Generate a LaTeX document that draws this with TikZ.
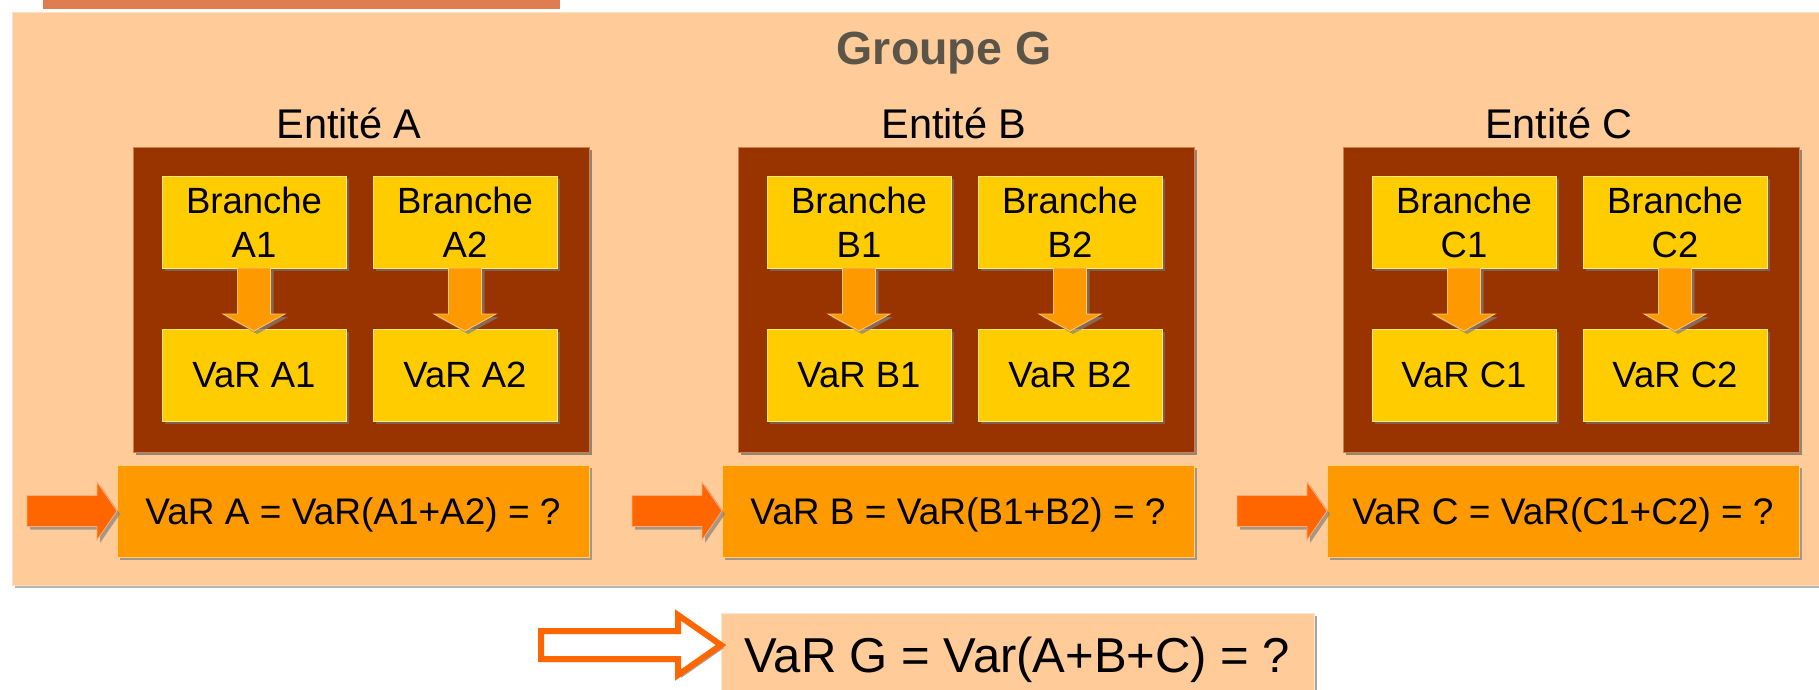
\documentclass[tikz,border=0pt]{standalone}
\usepackage{fontspec}
\setmainfont{Liberation Sans}
\usetikzlibrary{shadows,calc}

\definecolor{groupfill}{HTML}{FFCC99}
\definecolor{tabfill}{HTML}{E07D50}
\definecolor{entityfill}{HTML}{993300}
\definecolor{branchfill}{HTML}{FFCC00}
\definecolor{flowfill}{HTML}{FF9900}
\definecolor{pointer}{HTML}{FF6600}
\definecolor{titlegray}{HTML}{5A5548}

\begin{document}
\begin{tikzpicture}[x=1pt,y=-1pt,
  softshadow/.style={drop shadow={shadow xshift=3pt,shadow yshift=-3pt,fill=#1,opacity=0.7}},
  softshadow/.default=black!50,
  groupbox/.style={fill=groupfill, draw=groupfill!60!white, line width=1pt,
    softshadow=black!40, inner sep=0pt, outer sep=0pt},
  entitybox/.style={fill=entityfill, draw=entityfill!50!groupfill, line width=1pt,
    softshadow=black!60, minimum width=456pt, minimum height=305pt,
    inner sep=0pt, outer sep=0pt},
  branchbox/.style={fill=branchfill, draw=branchfill!50!white, line width=1pt,
    softshadow=black!55, minimum width=184pt, minimum height=92pt,
    inner sep=0pt, outer sep=0pt, align=center, font=\fontsize{36.5}{44}\selectfont},
  eqbox/.style={fill=flowfill, draw=flowfill!50!white, line width=1pt,
    softshadow, minimum width=472pt, minimum height=92pt, inner sep=0pt,
    outer sep=0pt, font=\fontsize{37}{44}\selectfont, text height=26.5pt, text depth=0pt},
  totalbox/.style={fill=groupfill, draw=groupfill!50!white, line width=1pt,
    softshadow, minimum width=593pt, minimum height=83pt, inner sep=0pt,
    outer sep=0pt, font=\fontsize{49}{56}\selectfont, text height=35pt, text depth=0pt},
  downarrow/.style={fill=flowfill, draw=flowfill!55!white, line width=0.8pt, softshadow},
  pointerarrow/.style={fill=pointer, draw=pointer!55!white, line width=0.8pt, softshadow},
  hollowarrow/.style={draw=pointer, fill=white, line width=6pt, line join=miter, softshadow},
  entitylabel/.style={font=\fontsize{41.5}{48}\selectfont, inner sep=0pt, anchor=base},
  titlelabel/.style={font=\fontsize{46.5}{54}\selectfont\bfseries, text=titlegray,
    inner sep=0pt, anchor=base}
]
\useasboundingbox (0,0) rectangle (1819,689);
\fill[white] (0,0) rectangle (1819,689);
\begin{scope}
\clip (0,0) rectangle (1819,689);

% title tab along the top edge
\fill[tabfill] (43,-5) rectangle (560,9);

% group container
\node[groupbox, anchor=north west, minimum width=1830pt, minimum height=573pt]
  (group) at (12,12) {};
\node[titlelabel] (title) at (944,64) {Groupe G};

% the three entities with their branches
\foreach \ent/\cx in {A/361,B/966,C/1571}{
  \node[entitybox] (ent\ent) at (\cx,299.5) {};
  \node[entitylabel] (lab\ent) at (\cx-12,138) {Entité \ent};
  \node[branchbox] (br\ent1) at (\cx-107,222) {Branche\\\ent1};
  \node[branchbox] (br\ent2) at (\cx+104,222) {Branche\\\ent2};
  \node[branchbox] (var\ent1) at (\cx-107,375) {VaR \ent1};
  \node[branchbox] (var\ent2) at (\cx+104,375) {VaR \ent2};
  \foreach \k in {1,2}{
    \path[downarrow] ($(br\ent\k.south)+(-16.5,0)$) -- ($(br\ent\k.south)+(16.5,0)$)
      -- ($(var\ent\k.north)+(16.5,-15)$) -- ($(var\ent\k.north)+(31,-15)$)
      -- ($(var\ent\k.north)+(0,2)$) -- ($(var\ent\k.north)+(-31,-15)$)
      -- ($(var\ent\k.north)+(-16.5,-15)$) -- cycle;
  }
  \node[eqbox] (eq\ent) at (\cx-8,511) {VaR \ent{} = VaR(\ent1+\ent2) = ?};
  \path[pointerarrow] ($(eq\ent.west)+(-90,-15.5)$) -- ($(eq\ent.west)+(-20,-15.5)$)
    -- ($(eq\ent.west)+(-20,-29)$) -- (eq\ent.west) -- ($(eq\ent.west)+(-20,29)$)
    -- ($(eq\ent.west)+(-20,15.5)$) -- ($(eq\ent.west)+(-90,15.5)$) -- cycle;
}

% group total
\node[totalbox] (total) at (1017.5,654.5) {VaR G = Var(A+B+C) = ?};
\coordinate (tipG) at ($(total.west)+(0,-9.5)$);
\path[hollowarrow] ($(tipG)+(-180,-14)$) -- ($(tipG)+(-43,-14)$)
  -- ($(tipG)+(-43,-30)$) -- (tipG) -- ($(tipG)+(-43,30)$)
  -- ($(tipG)+(-43,14)$) -- ($(tipG)+(-180,14)$) -- cycle;
\end{scope}
\end{tikzpicture}
\end{document}
